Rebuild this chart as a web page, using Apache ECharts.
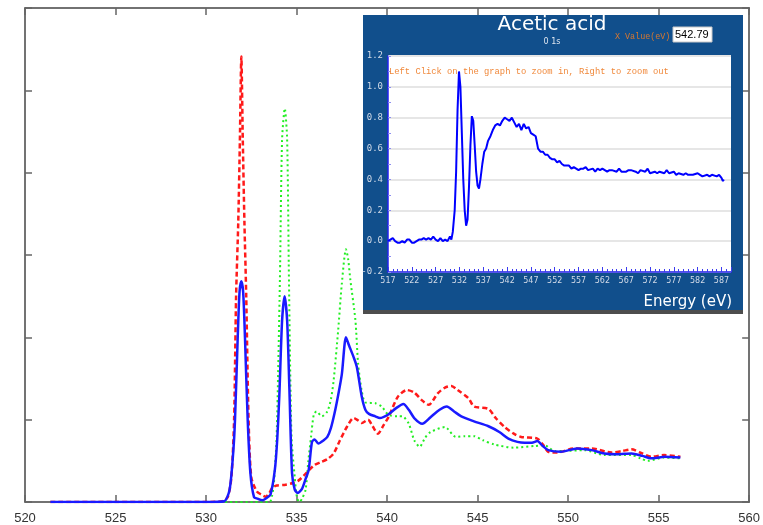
<!DOCTYPE html>
<html>
<head>
<meta charset="utf-8">
<script src="https://cdn.jsdelivr.net/npm/echarts@6/dist/echarts.min.js"></script>
<style>
  html, body { margin: 0; padding: 0; background: #fff; }
  #chart { width: 763px; height: 525px; }
</style>
</head>
<body>
<div id="chart"></div>
<script>
// O 1s NEXAFS spectra (main plot): photon energy (eV) and intensity
const blueEnergy = [521.4, 525, 530, 531.0, 531.3, 531.5, 531.6, 531.75, 531.85, 531.95, 532.05, 532.15, 532.3, 532.45, 532.65, 532.85, 533.1, 533.35, 533.56, 533.8, 533.93, 534.05, 534.2, 534.34, 534.48, 534.6, 534.75, 534.9, 535.06, 535.3, 535.5, 535.67, 535.85, 536.0, 536.2, 536.5, 536.7, 536.9, 537.1, 537.3, 537.5, 537.73, 537.9, 538.15, 538.33, 538.6, 538.8, 539.0, 539.35, 539.6, 540.05, 540.5, 540.9, 541.2, 541.5, 541.94, 542.4, 542.9, 543.3, 543.7, 544.1, 544.8, 545.6, 546.2, 546.7, 547.2, 547.6, 548.0, 548.3, 548.6, 548.9, 549.6, 550.5, 551.3, 552.0, 552.7, 553.5, 554.1, 554.6, 555.0, 555.3, 556.2];
const blueSignal = [0, 0, 0, 0.01, 0.15, 0.6, 1.0, 2.0, 2.55, 2.68, 2.55, 2.0, 1.0, 0.35, 0.06, 0.04, 0.02, 0.05, 0.09, 0.39, 0.75, 1.3, 2.2, 2.5, 2.2, 1.4, 0.35, 0.15, 0.11, 0.16, 0.28, 0.39, 0.73, 0.76, 0.71, 0.75, 0.79, 0.9, 1.08, 1.3, 1.55, 2.0, 1.9, 1.76, 1.64, 1.28, 1.12, 1.07, 1.04, 1.02, 1.06, 1.14, 1.19, 1.12, 1.02, 0.95, 1.03, 1.12, 1.16, 1.1, 1.04, 0.98, 0.92, 0.85, 0.77, 0.73, 0.72, 0.72, 0.74, 0.68, 0.63, 0.61, 0.65, 0.63, 0.59, 0.58, 0.59, 0.56, 0.53, 0.54, 0.55, 0.54];

const redEnergy = [521.4, 525, 530, 530.9, 531.2, 531.4, 531.55, 531.66, 531.78, 531.87, 531.95, 532.03, 532.12, 532.22, 532.35, 532.5, 532.8, 533.05, 533.3, 533.5, 533.65, 533.9, 534.4, 534.8, 535.1, 535.4, 535.7, 536.0, 536.3, 536.7, 537.05, 537.4, 537.8, 538.15, 538.4, 538.6, 538.95, 539.2, 539.5, 539.8, 540.1, 540.6, 541.1, 541.5, 541.9, 542.3, 542.8, 543.2, 543.55, 543.9, 544.5, 544.8, 545.6, 546.0, 546.5, 547.0, 547.4, 548.3, 548.6, 548.9, 549.4, 550.3, 551.3, 552.4, 553.0, 553.5, 554.1, 554.6, 555.3, 556.2];
const redSignal = [0, 0, 0, 0.01, 0.06, 0.3, 1.0, 2.5, 3.4, 4.4, 5.41, 4.4, 3.4, 2.5, 1.0, 0.3, 0.13, 0.09, 0.065, 0.11, 0.17, 0.2, 0.21, 0.23, 0.26, 0.32, 0.39, 0.45, 0.48, 0.52, 0.59, 0.75, 0.92, 1.02, 0.99, 0.96, 1.0, 0.92, 0.83, 0.93, 1.04, 1.28, 1.36, 1.33, 1.24, 1.18, 1.32, 1.39, 1.41, 1.36, 1.26, 1.16, 1.13, 1.02, 0.91, 0.83, 0.79, 0.77, 0.7, 0.61, 0.6, 0.65, 0.65, 0.6, 0.62, 0.64, 0.59, 0.55, 0.57, 0.55];

const greenEnergy = [521.4, 525, 530, 533.5, 533.65, 533.75, 533.9, 534.08, 534.2, 534.35, 534.48, 534.58, 534.72, 534.9, 535.02, 535.15, 535.3, 535.5, 535.65, 535.8, 535.95, 536.1, 536.4, 536.7, 536.9, 537.05, 537.3, 537.5, 537.73, 537.85, 537.97, 538.25, 538.4, 538.6, 538.8, 539.35, 539.7, 540.07, 540.6, 540.85, 541.2, 541.5, 541.8, 542.1, 542.4, 543.2, 543.8, 544.3, 544.8, 545.3, 545.9, 547.0, 548.15, 548.7, 549.25, 549.8, 550.9, 552.0, 553.5, 554.0, 554.4, 555.3, 556.2];
const greenSignal = [0, 0, 0, 0, 0.08, 0.23, 0.8, 2.7, 4.4, 4.78, 4.4, 2.7, 0.8, 0.3, 0.06, 0.0, 0.04, 0.15, 0.5, 0.79, 1.06, 1.1, 1.04, 1.1, 1.25, 1.48, 2.09, 2.65, 3.07, 2.95, 2.7, 2.21, 1.68, 1.35, 1.21, 1.2, 1.16, 1.06, 1.04, 1.04, 0.95, 0.75, 0.67, 0.78, 0.85, 0.91, 0.79, 0.8, 0.8, 0.75, 0.7, 0.66, 0.68, 0.69, 0.62, 0.62, 0.63, 0.57, 0.57, 0.53, 0.5, 0.54, 0.53];

const mainTicks = [520, 525, 530, 535, 540, 545, 550, 555, 560];

// Inset: Acetic acid O 1s spectrum
const insetEnergy = [517, 517.5, 518, 518.5, 519, 519.5, 520, 520.5, 521, 521.5, 522, 522.5, 523, 523.5, 524, 524.5, 525, 525.5, 526, 526.5, 527, 527.5, 528, 528.5, 529, 529.5, 530, 530.3, 530.6, 531, 531.3, 531.6, 531.9, 532.2, 532.5, 532.8, 533.1, 533.4, 533.7, 534.0, 534.3, 534.6, 534.9, 535.2, 535.5, 535.8, 536.1, 536.4, 536.8, 537.2, 537.6, 538, 538.5, 539, 539.5, 540, 540.5, 541, 541.5, 542, 542.5, 543, 543.5, 544, 544.5, 545, 545.5, 546, 546.5, 547, 547.5, 548, 548.5, 549, 549.5, 550, 550.5, 551, 551.5, 552, 552.5, 553, 553.5, 554, 555, 555.5, 556, 557, 557.5, 558, 558.5, 559, 560, 560.5, 561, 561.5, 562, 563, 563.5, 564, 565, 565.5, 566, 567, 567.5, 568, 569, 569.5, 570, 571, 571.5, 572, 573, 573.5, 574, 575, 575.5, 576, 577, 577.5, 578, 579, 579.5, 580, 581, 582, 582.5, 583, 584, 584.5, 585, 586, 586.5, 587, 587.3, 587.5];
const insetSignal = [0.0, 0.01, 0.02, 0.0, -0.01, -0.01, 0.0, -0.01, 0.01, 0.01, -0.01, -0.01, 0.0, 0.01, 0.01, 0.02, 0.01, 0.02, 0.01, 0.03, 0.01, 0.0, 0.02, 0.0, 0.01, 0.0, 0.03, 0.01, 0.06, 0.2, 0.45, 0.85, 1.1, 1.0, 0.7, 0.4, 0.2, 0.1, 0.14, 0.35, 0.62, 0.81, 0.78, 0.62, 0.45, 0.36, 0.34, 0.4, 0.5, 0.58, 0.6, 0.65, 0.68, 0.72, 0.75, 0.76, 0.75, 0.78, 0.8, 0.79, 0.78, 0.8, 0.77, 0.74, 0.76, 0.72, 0.76, 0.73, 0.74, 0.7, 0.69, 0.68, 0.6, 0.58, 0.58, 0.56, 0.56, 0.54, 0.53, 0.53, 0.51, 0.52, 0.5, 0.49, 0.49, 0.47, 0.48, 0.46, 0.47, 0.47, 0.48, 0.46, 0.47, 0.45, 0.47, 0.46, 0.47, 0.45, 0.46, 0.46, 0.45, 0.47, 0.45, 0.45, 0.46, 0.46, 0.45, 0.44, 0.46, 0.45, 0.47, 0.44, 0.45, 0.44, 0.45, 0.44, 0.46, 0.44, 0.45, 0.43, 0.44, 0.43, 0.44, 0.43, 0.43, 0.44, 0.43, 0.42, 0.43, 0.42, 0.43, 0.42, 0.43, 0.41, 0.39, 0.40];
const insetTicksX = [517, 522, 527, 532, 537, 542, 547, 552, 557, 562, 567, 572, 577, 582, 587];
const insetTicksY = [-0.2, 0.0, 0.2, 0.4, 0.6, 0.8, 1.0, 1.2];

const insetTitle = 'Acetic acid';
const insetEdge = '0 1s';
const xValueLabel = 'X Value(eV)';
const xValueReading = '542.79';
const zoomHint = 'Left Click on the graph to zoom in, Right to zoom out';
const insetAxisName = 'Energy (eV)';

const pairs = (xs, ys) => xs.map((x, i) => [x, ys[i]]);

const chart = echarts.init(document.getElementById('chart'), null, { renderer: 'canvas' });

const frameLine = { show: true, onZero: false, lineStyle: { color: '#444', width: 1.5 } };
const innerTick = { show: true, inside: true, length: 7, lineStyle: { color: '#666', width: 1.5 } };
const panelBlue = '#114f8c';
const insetLabelColor = '#d3dbe8';

chart.setOption({
  animation: false,
  backgroundColor: '#fff',
  grid: [
    { left: 25, right: 12, top: 8, bottom: 22, show: false },
    { left: 388, top: 56, width: 343, height: 216, show: false }
  ],
  xAxis: [
    {
      gridIndex: 0, type: 'value', position: 'bottom',
      min: mainTicks[0], max: mainTicks[mainTicks.length - 1], interval: 5,
      axisLine: frameLine, axisTick: innerTick, splitLine: { show: false },
      axisLabel: { color: '#333', fontSize: 13, fontFamily: 'Liberation Sans, Arial, sans-serif', margin: 10 }
    },
    {
      gridIndex: 0, type: 'value', position: 'top',
      min: mainTicks[0], max: mainTicks[mainTicks.length - 1], interval: 5,
      axisLine: frameLine, axisTick: innerTick, splitLine: { show: false },
      axisLabel: { show: false }
    },
    {
      gridIndex: 1, type: 'value', position: 'bottom', z: 3,
      min: insetTicksX[0], max: 589, interval: 5,
      axisLine: { show: true, onZero: false, lineStyle: { color: '#2222ee', width: 1.5 } },
      axisTick: { show: true, inside: true, length: 5, lineStyle: { color: '#3b3bf0', width: 1 } },
      minorTick: { show: true, splitNumber: 5, length: 3, lineStyle: { color: '#3b3bf0', width: 1 } },
      splitLine: { show: false },
      axisLabel: {
        color: insetLabelColor, fontSize: 8, fontFamily: 'DejaVu Sans, sans-serif', margin: 5,
        formatter: v => (insetTicksX.indexOf(Math.round(v)) >= 0 && Math.abs(v - Math.round(v)) < 1e-6) ? String(Math.round(v)) : ''
      }
    }
  ],
  yAxis: [
    {
      gridIndex: 0, type: 'value', position: 'left', min: 0, max: 6, interval: 1,
      axisLine: frameLine, axisTick: innerTick, splitLine: { show: false }, axisLabel: { show: false }
    },
    {
      gridIndex: 0, type: 'value', position: 'right', min: 0, max: 6, interval: 1,
      axisLine: frameLine, axisTick: innerTick, splitLine: { show: false }, axisLabel: { show: false }
    },
    {
      gridIndex: 1, type: 'value', position: 'left', z: 3,
      min: insetTicksY[0], max: insetTicksY[insetTicksY.length - 1], interval: 0.2,
      axisLine: { show: true, onZero: false, lineStyle: { color: '#2222ee', width: 1.5 } },
      axisTick: { show: true, inside: true, length: 3, lineStyle: { color: '#8c8cf0', width: 1 } },
      minorTick: { show: true, splitNumber: 2, length: 3, lineStyle: { color: '#8c8cf0', width: 1 } },
      splitLine: { show: true, lineStyle: { color: '#e6e6e6', width: 2 } },
      axisLabel: {
        color: insetLabelColor, fontSize: 9, fontFamily: 'DejaVu Sans Mono, monospace', margin: 5,
        formatter: v => v.toFixed(1)
      }
    }
  ],
  graphic: [
    { type: 'rect', z: 1, shape: { x: 363, y: 310, width: 380, height: 4 }, style: { fill: '#4d4d4d' } },
    { type: 'rect', z: 1, shape: { x: 363, y: 15, width: 380, height: 295 }, style: { fill: panelBlue } },
    { type: 'rect', z: 2, shape: { x: 388, y: 56, width: 343, height: 216 }, style: { fill: '#ffffff' } },
    { type: 'text', z: 3, style: { text: insetTitle, x: 552, y: 25, align: 'center', verticalAlign: 'middle', fill: '#ffffff', font: '20px "DejaVu Sans", sans-serif' } },
    { type: 'text', z: 3, style: { text: insetEdge, x: 552, y: 42, align: 'center', verticalAlign: 'middle', fill: '#dfe6f0', font: '8px "DejaVu Sans", sans-serif' } },
    { type: 'text', z: 3, style: { text: xValueLabel, x: 615, y: 37, align: 'left', verticalAlign: 'middle', fill: '#d9782f', font: '8.4px "Liberation Mono", monospace' } },
    { type: 'rect', z: 3, shape: { x: 673, y: 27, width: 39, height: 15 }, style: { fill: '#ffffff', stroke: '#c8c8c8', lineWidth: 1 } },
    { type: 'text', z: 4, style: { text: xValueReading, x: 675, y: 35, align: 'left', verticalAlign: 'middle', fill: '#000000', font: '11px "Liberation Sans", Arial, sans-serif' } },
    { type: 'text', z: 4, style: { text: zoomHint, x: 389, y: 72, align: 'left', verticalAlign: 'middle', fill: '#f0883a', font: '8.8px "Liberation Mono", monospace' } },
    { type: 'text', z: 3, style: { text: insetAxisName, x: 732, y: 302, align: 'right', verticalAlign: 'middle', fill: '#ffffff', font: '15px "DejaVu Sans", sans-serif' } }
  ],
  series: [
    {
      type: 'line', xAxisIndex: 0, yAxisIndex: 0, z: 2,
      data: pairs(greenEnergy, greenSignal), showSymbol: false, smooth: 0.25,
      lineStyle: { color: '#22ee22', width: 2, type: [2, 3] }
    },
    {
      type: 'line', xAxisIndex: 0, yAxisIndex: 0, z: 3,
      data: pairs(redEnergy, redSignal), showSymbol: false, smooth: 0.25,
      lineStyle: { color: '#ff1a1a', width: 2.5, type: [5, 3] }
    },
    {
      type: 'line', xAxisIndex: 0, yAxisIndex: 0, z: 4,
      data: pairs(blueEnergy, blueSignal), showSymbol: false, smooth: 0.25,
      lineStyle: { color: '#1a1aff', width: 2.5 }
    },
    {
      type: 'line', xAxisIndex: 2, yAxisIndex: 2, z: 5,
      data: pairs(insetEnergy, insetSignal), showSymbol: false, smooth: false,
      lineStyle: { color: '#0000ff', width: 2 }
    }
  ]
});
</script>
</body>
</html>
